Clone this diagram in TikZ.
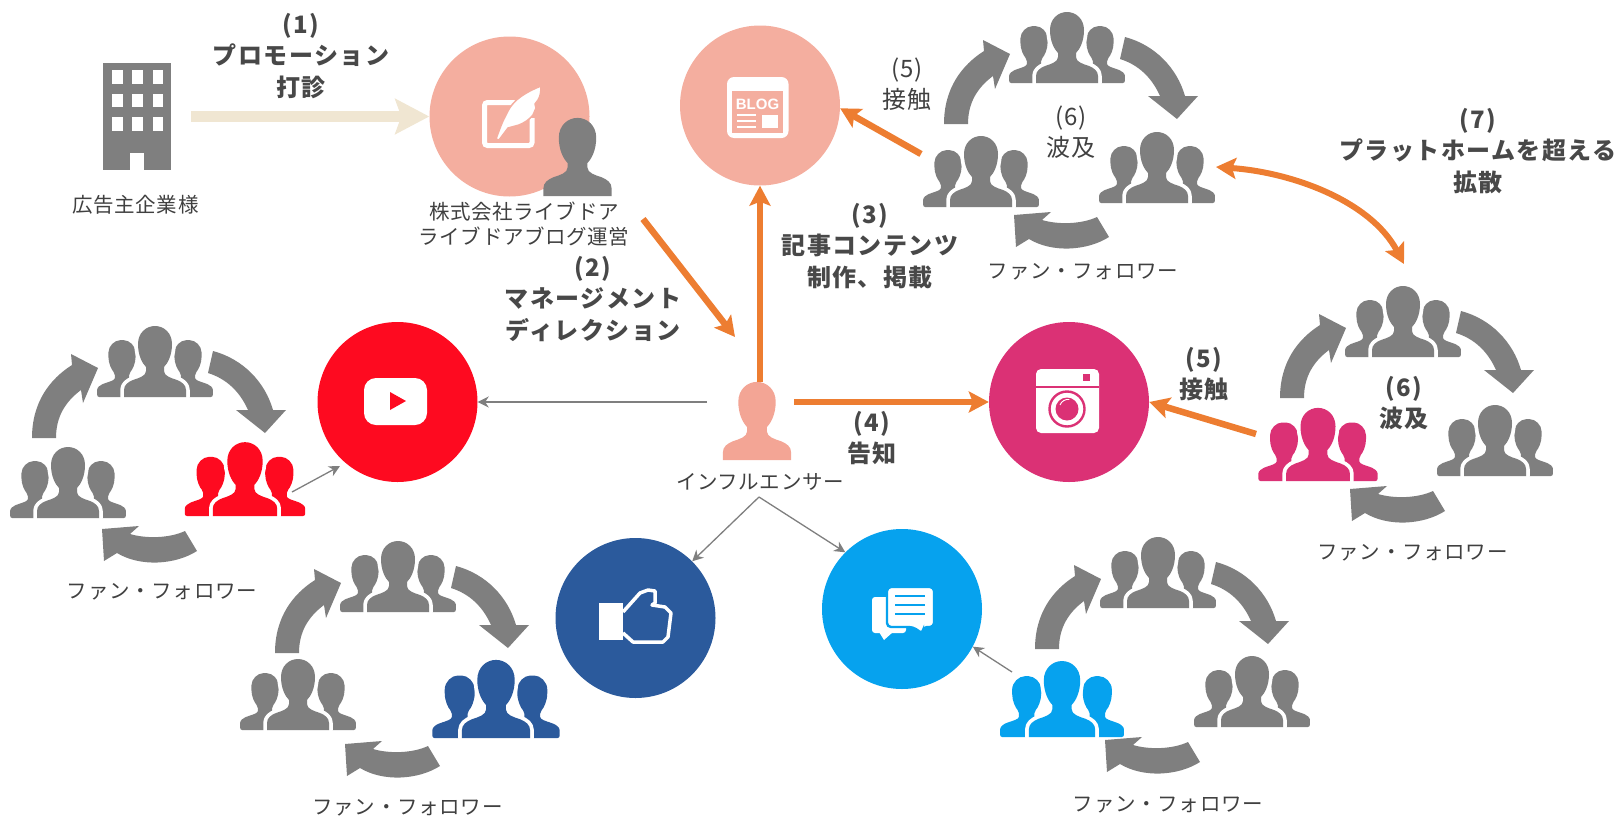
\documentclass[tikz,border=0pt]{standalone}
\usepackage{fontspec}
\usetikzlibrary{arrows.meta}
\setmainfont{Noto Sans CJK JP}[LetterSpace=3,BoldFeatures={LetterSpace=6}]
\newfontfamily\fanfont[LetterSpace=3.5]{Noto Sans CJK JP}
\newfontfamily\logofont{Liberation Sans}
\definecolor{ink}{HTML}{404040}
\definecolor{inkb}{HTML}{484848}
\definecolor{gr}{HTML}{7F7F7F}
\definecolor{org}{HTML}{ED7D31}
\definecolor{cream}{HTML}{F0E6D2}
\definecolor{salmon}{HTML}{F4AE9F}
\definecolor{skin}{HTML}{F3A595}
\definecolor{ytred}{HTML}{FE0A20}
\definecolor{igpink}{HTML}{DB3175}
\definecolor{fbblue}{HTML}{2B5A9C}
\definecolor{chatblue}{HTML}{06A2EE}
\def\manshape{(-31,0) -- (-31,-7) .. controls (-31,-12) and (-27,-15) .. (-22,-17)
  .. controls (-16,-19) and (-9,-21) .. (-9,-26) -- (-9,-30)
  .. controls (-13,-34) and (-17,-42) .. (-17,-53)
  .. controls (-17,-64) and (-9,-71) .. (0,-71)
  .. controls (9,-71) and (17,-64) .. (17,-53)
  .. controls (17,-42) and (13,-34) .. (9,-30) -- (9,-26)
  .. controls (9,-21) and (16,-19) .. (22,-17)
  .. controls (27,-15) and (31,-12) .. (31,-7) -- (31,0) -- cycle}
\tikzset{
  pics/crowd/.style={code={
    \fill[#1,rounded corners=2pt,shift={(-33,0)},scale=.8] \manshape;
    \fill[#1,rounded corners=2pt,shift={(33,0)},scale=.8] \manshape;
    \path[draw=white,line width=7.5pt,line join=round] \manshape;
    \fill[#1] \manshape;
  }},
  pics/fanloop/.style={code={
    \fill[gr] (-123,41) .. controls (-123,5) and (-105,-18) .. (-83,-32) -- (-84,-43) -- (-57,-29)
      -- (-72,6) -- (-74,-7) .. controls (-90,5) and (-99,20) .. (-99,41) -- cycle;
    \fill[gr] (58,-46) .. controls (88,-38) and (110,-15) .. (118,13) -- (131,13) -- (110,36)
      -- (81,13) -- (93,13) .. controls (85,-5) and (72,-18) .. (53,-24) -- cycle;
    \fill[gr] (30,134) .. controls (15,141) and (-8,142) .. (-25,137) -- (-16,129) -- (-53,132)
      -- (-51,164) -- (-38,156) .. controls (-15,170) and (20,168) .. (42,154) -- cycle;
  }},
  disc/.style={circle,minimum size=160pt,inner sep=0pt,fill=#1},
  lab/.style={text=ink,align=center,inner sep=0pt,font=\fontsize{20.5}{25}\selectfont},
  fanlab/.style={text=ink,inner sep=0pt,font=\fanfont\fontsize{20.5}{25}\selectfont},
  headb/.style={text=inkb,align=center,inner sep=0pt,font=\bfseries\fontsize{24}{31.5}\selectfont},
  headr/.style={text=ink,align=center,inner sep=0pt,font=\fontsize{24}{31.5}\selectfont},
  orangearrow/.style={org,line width=6.5pt,-{Stealth[length=20pt,width=21pt,inset=4pt]}},
  thinarrow/.style={gr,line width=1.3pt,-{Stealth[length=11pt,width=11pt,inset=3.5pt]}},
}
\begin{document}
\begin{tikzpicture}[x=1pt,y=-1pt]
\useasboundingbox (0,0) rectangle (1620,817);

% discs
\node[disc=salmon] (adv) at (509.5,116.5) {};
\node[disc=salmon] (blog) at (760,105.5) {};
\node[disc=ytred] (yt) at (397.5,402) {};
\node[disc=igpink] (ig) at (1069,402) {};
\node[disc=fbblue] (fb) at (635.5,618) {};
\node[disc=chatblue] (chat) at (902,609) {};

% building
\fill[gr] (103,63) rectangle (171,170);
\foreach \yy in {70,93.5,117}{
  \foreach \xx in {112,132,152.5}{
    \fill[white] (\xx,\yy) rectangle ++(10.5,13.5);
  }
}
\fill[white] (130,153) rectangle (143.5,170);

% pen icon
\draw[white,line width=5pt,rounded corners=3pt] (516,102.5) -- (484.5,102.5) -- (484.5,145.5) -- (532,145.5) -- (532,118);
\path[fill=white,draw=salmon,line width=1.5pt,line join=round] (496,139) .. controls (500,128) and (503,120) .. (506,115)
  .. controls (510,106) and (516,96) .. (541,86)
  .. controls (541,93) and (540,97) .. (538,100) -- (535,104) -- (536,108) -- (533,115)
  .. controls (529,120) and (524,123) .. (519,125) -- (508,128) -- (499,140) -- cycle;
\fill[gr,shift={(577.5,196)},scale=1.1] \manshape;

% blog icon
\fill[white,rounded corners=7pt] (727,77) rectangle (788.5,138);
\fill[salmon] (732,91) rectangle (783,133);
\node[inner sep=0pt,text=white,font=\logofont\bfseries\fontsize{15}{15}\selectfont] (blogtext) at (757.5,104) {BLOG};
\draw[white,line width=1.6pt] (737,115) -- (756,115) (737,121) -- (756,121) (737,127) -- (756,127);
\fill[white] (762,115) rectangle (778,128);

% youtube icon
\fill[white,rounded corners=12pt] (364,378) rectangle (427,425);
\fill[ytred] (390,392) -- (406,401) -- (390,410) -- cycle;

% instagram icon
\fill[white,rounded corners=5pt] (1036,369) rectangle (1099,433);
\draw[igpink,line width=2.6pt] (1036,387) -- (1099,387);
\fill[igpink] (1083,374) rectangle (1090,381);
\draw[igpink,line width=2.4pt] (1067,409) circle (17.5);
\fill[igpink] (1067,409) circle (11.5);
\draw[white,line width=.9pt] (1060,405) arc (200:280:8.5);

% thumb icon
\fill[white] (599,603) rectangle (623,640);
\draw[white,line width=3.5pt,line join=round] (623,612) -- (640,593) -- (648,590) -- (655,591) -- (655,603) -- (652,605)
  -- (665,607) -- (671,613) -- (668,637) -- (663,642) -- (633,642) -- (623,633);

% chat icon
\fill[white,rounded corners=3pt] (872,597) rectangle (906,633);
\fill[white] (879,632) -- (884,640) -- (893,632) -- cycle;
\path[fill=white,draw=chatblue,line width=2.4pt,rounded corners=4pt] (887,587) -- (934,587) -- (934,627) -- (923,627) -- (923,634)
  -- (913,627) -- (887,627) -- cycle;
\draw[chatblue,line width=2pt] (895,596) -- (925,596) (895,605) -- (925,605) (895,614) -- (925,614);

% influencer
\fill[skin,shift={(757,460)},scale=1.1] \manshape;

% fan loops
\pic at (1067,83) {fanloop};
\pic at (155,397) {fanloop};
\pic at (398,612) {fanloop};
\pic at (1158,608) {fanloop};
\pic at (1403,357) {fanloop};

\pic at (1067,83) {crowd=gr};
\pic at (981,207) {crowd=gr};
\pic at (1157,203) {crowd=gr};

\pic at (155,397) {crowd=gr};
\pic at (68,518) {crowd=gr};
\pic[scale=1.04] at (245,516) {crowd=ytred};

\pic at (398,612) {crowd=gr};
\pic at (298,730) {crowd=gr};
\pic[scale=1.1] at (496,738) {crowd=fbblue};

\pic at (1158,608) {crowd=gr};
\pic[scale=1.07] at (1062,737) {crowd=chatblue};
\pic at (1252,727) {crowd=gr};

\pic at (1403,357) {crowd=gr};
\pic[scale=1.03] at (1318,481) {crowd=igpink};
\pic at (1495,476) {crowd=gr};

% free connector ends
\coordinate (creamstart) at (191,116.5);
\coordinate (mgrout) at (643,219);
\coordinate (inflin) at (735,337);
\coordinate (influp) at (760,382);
\coordinate (inflright) at (794,402);
\coordinate (inflleft) at (707,402);
\coordinate (inflfork) at (759,497);
\coordinate (trfan) at (921,154);
\coordinate (igfan) at (1256,434);
\coordinate (spreada) at (1216,167);
\coordinate (spreadb) at (1404,264);
\coordinate (ytfan) at (292,492);
\coordinate (ytin) at (340,466);
\coordinate (chatfan) at (1012,672);

% connectors
\draw[cream,line width=11pt,-{Stealth[length=34pt,width=35pt,inset=6pt]}] (creamstart) -- (adv.west);
\draw[orangearrow] (mgrout) -- (inflin);
\draw[orangearrow] (influp) -- (blog.south);
\draw[orangearrow] (inflright) -- (ig.west);
\draw[orangearrow] (trfan) -- (blog.-2);
\draw[orangearrow] (igfan) -- (ig.east);
\draw[org,line width=6pt,{Stealth[length=20pt,width=21pt,inset=4pt]}-{Stealth[length=20pt,width=21pt,inset=4pt]}]
  (spreada) .. controls (1290,172) and (1370,200) .. (spreadb);
\draw[thinarrow] (inflleft) -- (yt.east);
\draw[thinarrow] (ytfan) -- (ytin);
\draw[thinarrow] (inflfork) -- (fb.45);
\draw[thinarrow] (inflfork) -- (chat.135);
\draw[thinarrow] (chatfan) -- (chat.-28.5);

% labels
\node[headb] (t1) at (301,56) {(1)\\プロモーション\\打診};
\node[lab] (tadv) at (135.5,205) {広告主企業様};
\node[lab] (tmgr) at (524,224) {株式会社ライブドア\\ライブドアブログ運営};
\node[headb] (t2) at (593,299) {(2)\\マネージメント\\ディレクション};
\node[headb] (t3) at (870,246) {(3)\\記事コンテンツ\\制作、掲載};
\node[headb] (t4) at (872,438) {(4)\\告知};
\node[headr] (t5a) at (907,84) {(5)\\接触};
\node[headr] (t6a) at (1071,132) {(6)\\波及};
\node[headb] (t5b) at (1204,374) {(5)\\接触};
\node[headb] (t6b) at (1404,403) {(6)\\波及};
\node[headb] (t7) at (1478,151) {(7)\\プラットホームを超える\\拡散};
\node[lab] (tinf) at (760,482) {インフルエンサー};
\node[fanlab] (f1) at (1083,272) {ファン・フォロワー};
\node[fanlab] (f2) at (162,592) {ファン・フォロワー};
\node[fanlab] (f3) at (407.5,808) {ファン・フォロワー};
\node[fanlab] (f4) at (1168,805) {ファン・フォロワー};
\node[fanlab] (f5) at (1412.5,553) {ファン・フォロワー};
\end{tikzpicture}
\end{document}
